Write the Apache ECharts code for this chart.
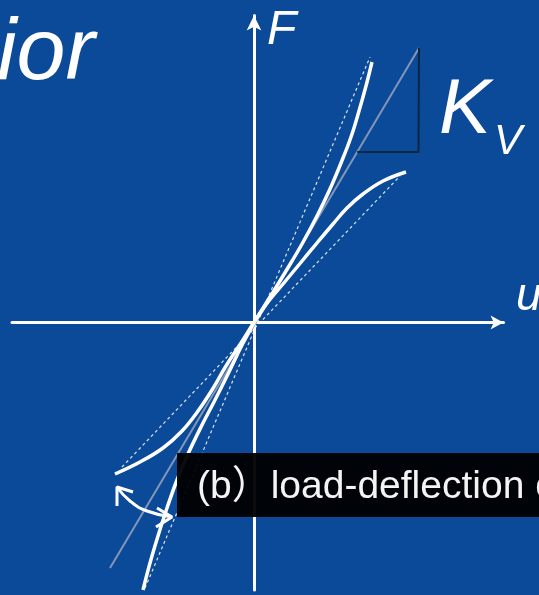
<!DOCTYPE html>
<html>
<head>
<meta charset="utf-8">
<script src="https://cdn.jsdelivr.net/npm/echarts@6/dist/echarts.min.js"></script>
<style>
	html, body { margin: 0; padding: 0; background: #0a4a98; }
	#chart { width: 539px; height: 595px; }
</style>
</head>
<body>
<div id="chart"></div>
<script>
// values, in (u, F) units
var stiffCurve = [
	[-1.11, -2.675], [-1.04, -2.405], [-0.96, -2.135], [-0.87, -1.855], [-0.77, -1.575],
	[-0.66, -1.315], [-0.53, -1.045], [-0.39, -0.775], [-0.25, -0.495], [-0.12, -0.225],
	[0, 0],
	[0.16, 0.255], [0.32, 0.515], [0.48, 0.785], [0.63, 1.065], [0.76, 1.335],
	[0.87, 1.595], [0.97, 1.855], [1.05, 2.115], [1.12, 2.365], [1.18, 2.605]
];
var softCurve = [
	[-1.39, -1.515], [-1.14, -1.395], [-0.91, -1.255], [-0.72, -1.085], [-0.56, -0.885],
	[-0.42, -0.675], [-0.28, -0.435], [-0.13, -0.205],
	[0, 0],
	[0.14, 0.205], [0.29, 0.385], [0.46, 0.59], [0.63, 0.795], [0.79, 0.985],
	[0.93, 1.145], [1.09, 1.285], [1.29, 1.415], [1.52, 1.505]
];
var kvLine = [[-1.44, -2.455], [1.65, 2.745]];
var kvTriangle = [[1.032, 1.705], [1.645, 1.705], [1.65, 2.745]];
var steepSecant = [[-1.09, -2.655], [1.16, 2.655]];
var softSecant = [[-1.32, -1.445], [1.46, 1.465]];
var turnArc = [[-1.37, -1.645], [-1.24, -1.785], [-1.07, -1.885], [-0.82, -1.945]];
var turnHeadA = [[-1.37, -1.835], [-1.37, -1.645], [-1.21, -1.695]];
var turnHeadB = [[-0.97, -1.855], [-0.82, -1.945], [-0.98, -2.045]];

var uRange = [-2.42, 2.495];
var fRange = [-2.675, 3.07];

var font = "'Liberation Sans', Arial, sans-serif";

function lineSeries(data, color, width, extra) {
	var s = {
		type: 'line',
		data: data,
		showSymbol: false,
		silent: true,
		animation: false,
		lineStyle: { color: color, width: width }
	};
	if (extra) {
		for (var k in extra) {
			if (k === 'lineStyle') {
				for (var j in extra.lineStyle) s.lineStyle[j] = extra.lineStyle[j];
			} else {
				s[k] = extra[k];
			}
		}
	}
	return s;
}

var myChart = echarts.init(document.getElementById('chart'));

var axisBase = {
	type: 'value',
	axisTick: { show: false },
	axisLabel: { show: false },
	splitLine: { show: false }
};

var option = {
	backgroundColor: '#0a4a98',
	animation: false,
	grid: { left: 12, right: 35.5, top: 15.5, bottom: 5 },
	xAxis: Object.assign({}, axisBase, {
		min: uRange[0], max: uRange[1],
		axisLine: {
			onZero: true,
			symbol: ['none', 'arrow'],
			symbolSize: [10.5, 13],
			lineStyle: { color: '#ffffff', width: 3 }
		}
	}),
	yAxis: Object.assign({}, axisBase, {
		min: fRange[0], max: fRange[1],
		axisLine: {
			onZero: true,
			symbol: ['none', 'arrow'],
			symbolSize: [11, 15],
			lineStyle: { color: '#ffffff', width: 3 }
		}
	}),
	series: [
		lineSeries(kvLine, '#8496b8', 2),
		lineSeries(kvTriangle, '#0b2742', 2),
		lineSeries(steepSecant, 'rgba(255,255,255,0.85)', 1.2, { lineStyle: { type: [3, 3] } }),
		lineSeries(softSecant, 'rgba(255,255,255,0.85)', 1.2, { lineStyle: { type: [3, 3] } }),
		lineSeries(stiffCurve, '#ffffff', 3.5, { smooth: 0.4 }),
		lineSeries(softCurve, '#ffffff', 3.5, { smooth: 0.4 }),
		lineSeries(turnArc, '#ffffff', 3, { smooth: 0.5 }),
		lineSeries(turnHeadA, '#ffffff', 3),
		lineSeries(turnHeadB, '#ffffff', 3)
	],
	graphic: [
		{ type: 'text', x: -3, y: 55, z: 50, style: { text: 'ior', font: 'italic 88px ' + font, fill: '#ffffff', align: 'left', verticalAlign: 'middle' } },
		{ type: 'text', x: 267, y: 31, z: 50, style: { text: 'F', font: 'italic 48px ' + font, fill: '#ffffff', align: 'left', verticalAlign: 'middle' } },
		{ type: 'text', x: 439, y: 111, z: 50, style: { text: 'K', font: 'italic 78px ' + font, fill: '#ffffff', align: 'left', verticalAlign: 'middle' } },
		{ type: 'text', x: 494, y: 142, z: 50, style: { text: 'V', font: 'italic 42px ' + font, fill: '#ffffff', align: 'left', verticalAlign: 'middle' } },
		{ type: 'text', x: 516, y: 297, z: 50, style: { text: 'u', font: 'italic 46px ' + font, fill: '#ffffff', align: 'left', verticalAlign: 'middle' } },
		{ type: 'rect', z: 100, shape: { x: 177, y: 453, width: 380, height: 64 }, style: { fill: 'rgba(0,0,0,0.95)' } },
		{ type: 'text', x: 197, y: 487.5, z: 101, style: { text: '(b）load-deflection o', font: "39px 'Liberation Sans', 'Noto Sans CJK SC', sans-serif", fill: '#f4f4f4', align: 'left', verticalAlign: 'middle' } }
	]
};

myChart.setOption(option);
</script>
</body>
</html>
